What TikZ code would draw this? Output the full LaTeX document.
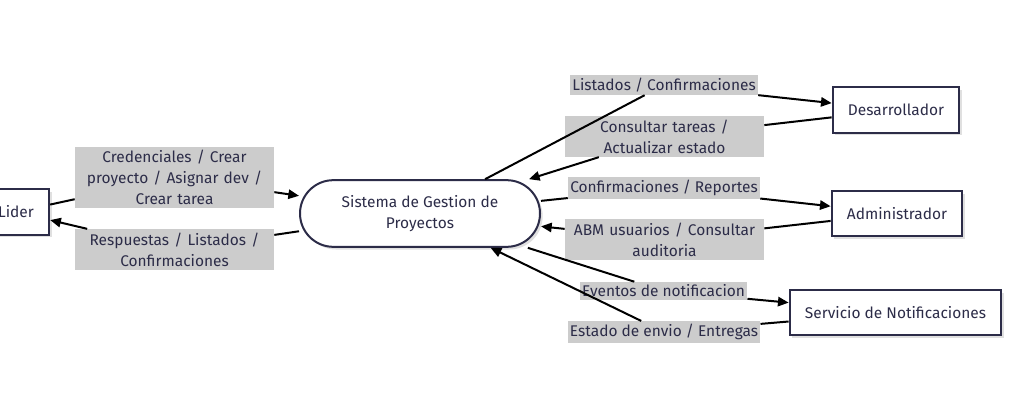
\documentclass[tikz,border=0pt]{standalone}
\usepackage{fontspec}
\setmainfont{Fira Sans}
\usetikzlibrary{arrows.meta,shadows}

\definecolor{inkc}{RGB}{44,44,72}
\definecolor{labelbg}{RGB}{204,204,204}

\tikzset{every picture/.style={line width=0.75pt}}
\tikzset{
  basefont/.style={font=\fontsize{11.6}{15.75}\selectfont,text=inkc},
  actor/.style={basefont,draw=inkc,line width=1.5pt,fill=white,minimum height=34pt,inner xsep=11.5pt,
    drop shadow={shadow xshift=2pt,shadow yshift=-2pt,fill=black,opacity=0.12}},
  system/.style={actor,rounded corners=25pt,minimum width=180pt,minimum height=50pt,align=center},
  flowlabel/.style={basefont,fill=labelbg,inner xsep=1.5pt,inner ysep=2pt},
  widelabel/.style={flowlabel,text width=146pt,align=center,inner ysep=2.5pt},
  flow/.style={line width=1.5pt,-{Triangle[length=8pt,width=7pt]}},
}

\begin{document}
\begin{tikzpicture}[x=0.75pt,y=0.75pt,yscale=-1,xscale=1]
\useasboundingbox (0,0) rectangle (1009,400);

%Shape: Rectangle [lider]
\node [actor] (lider) at (16,212) {Lider};
%Shape: Stadium [sistema]
\node [system] (sis) at (420,213.5) {Sistema de Gestion de\\Proyectos};
%Shape: Rectangle [dev]
\node [actor] (dev) at (896,110) {Desarrollador};
%Shape: Rectangle [admin]
\node [actor] (adm) at (897,213.5) {Administrador};
%Shape: Rectangle [notificaciones]
\node [actor] (noti) at (895.5,312.5) {Servicio de Notificaciones};

% Text Node
\node [widelabel] (l1) at (174.5,177.5) {Credenciales / Crear\\proyecto / Asignar dev /\\Crear tarea};
% Text Node
\node [widelabel] (l2) at (174.5,249.5) {Respuestas / Listados /\\Confirmaciones};
% Text Node
\node [flowlabel] (l3) at (664,85) {Listados / Confirmaciones};
% Text Node
\node [widelabel] (l4) at (664.5,136.5) {Consultar tareas /\\Actualizar estado};
% Text Node
\node [flowlabel] (l5) at (664,188) {Confirmaciones / Reportes};
% Text Node
\node [widelabel] (l6) at (664.5,239.5) {ABM usuarios / Consultar\\auditoria};
% Text Node
\node [flowlabel] (l7) at (663.5,291) {Eventos de notificacion};
% Text Node
\node [flowlabel] (l8) at (664,332) {Estado de envio / Entregas};

%Straight Lines [lider <-> sistema]
\draw [flow] (lider) -- (l1) -- (sis);
\draw [flow] (sis) -- (l2) -- (lider);
%Straight Lines [sistema <-> dev]
\draw [flow] (sis) -- (l3) -- (dev);
\draw [flow] (dev) -- (l4) -- (sis);
%Straight Lines [sistema <-> admin]
\draw [flow] (sis) -- (l5) -- (adm);
\draw [flow] (adm) -- (l6) -- (sis);
%Straight Lines [sistema <-> notificaciones]
\draw [flow] (sis) -- (l7) -- (noti);
\draw [flow] (noti) -- (l8) -- (sis);

\end{tikzpicture}
\end{document}
